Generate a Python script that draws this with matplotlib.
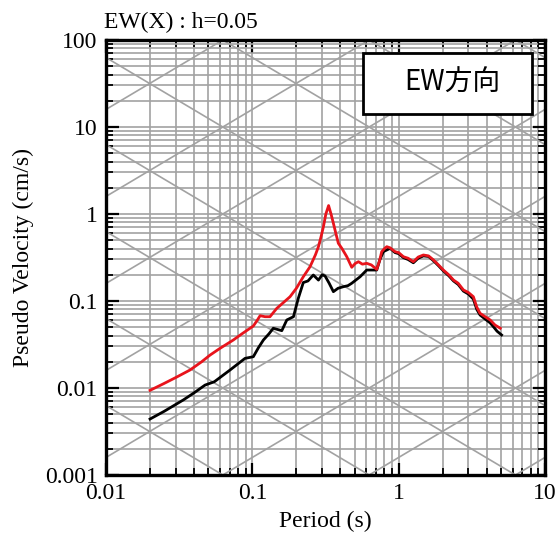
import numpy as np
import matplotlib.pyplot as plt
from matplotlib.patches import Rectangle

plt.rcParams['font.family'] = ['Liberation Serif', 'DejaVu Serif']

# Response spectrum, h=0.05
period_red = [0.02, 0.025, 0.03, 0.0375, 0.045, 0.0514, 0.06, 0.0741, 0.085, 0.1016,
              0.108, 0.113, 0.122, 0.132, 0.147, 0.162, 0.181, 0.2, 0.223, 0.248,
              0.27, 0.283, 0.295, 0.306, 0.318, 0.332, 0.345, 0.358, 0.372, 0.387,
              0.41, 0.442, 0.478, 0.505, 0.531, 0.565, 0.605, 0.65, 0.708, 0.74,
              0.766, 0.8, 0.829, 0.87, 0.945, 1.0, 1.077, 1.16, 1.26, 1.36,
              1.475, 1.6, 1.73, 1.87, 2.02, 2.2, 2.37, 2.55, 2.77, 3.0,
              3.24, 3.42, 3.6, 3.9, 4.22, 4.55, 4.95]
sv_red = [0.0094, 0.0113, 0.0132, 0.0161, 0.0200, 0.0239, 0.0285, 0.0356, 0.0420, 0.0516,
          0.060, 0.0678, 0.066, 0.066, 0.0824, 0.095, 0.112, 0.140, 0.190, 0.248,
          0.340, 0.421, 0.55, 0.714, 1.00, 1.25, 1.00, 0.782, 0.60, 0.461,
          0.40, 0.323, 0.244, 0.27, 0.283, 0.265, 0.271, 0.26, 0.231, 0.29,
          0.369, 0.40, 0.421, 0.41, 0.369, 0.36, 0.323, 0.31, 0.283, 0.32,
          0.338, 0.33, 0.296, 0.26, 0.227, 0.20, 0.174, 0.16, 0.134, 0.125,
          0.112, 0.085, 0.0722, 0.066, 0.0605, 0.053, 0.0486]

period_blk = [0.02, 0.025, 0.0338, 0.04, 0.0475, 0.055, 0.0704, 0.0891, 0.1016, 0.11,
              0.119, 0.13, 0.139, 0.159, 0.172, 0.191, 0.206, 0.223, 0.24, 0.261,
              0.283, 0.3, 0.314, 0.335, 0.358, 0.385, 0.419, 0.45, 0.478, 0.545,
              0.605, 0.708, 0.745, 0.786, 0.874, 0.945, 1.0, 1.077, 1.16, 1.26,
              1.36, 1.475, 1.6, 1.73, 1.87, 2.02, 2.2, 2.37, 2.55, 2.77,
              3.0, 3.24, 3.42, 3.6, 3.9, 4.22, 4.44, 4.7, 5.05]
sv_blk = [0.0044, 0.0054, 0.0073, 0.0088, 0.0108, 0.0118, 0.0161, 0.0219, 0.0229, 0.029,
          0.0356, 0.042, 0.0486, 0.0456, 0.0605, 0.066, 0.107, 0.163, 0.17, 0.199,
          0.174, 0.20, 0.194, 0.16, 0.128, 0.14, 0.146, 0.15, 0.160, 0.190,
          0.227, 0.227, 0.30, 0.369, 0.403, 0.36, 0.35, 0.315, 0.30, 0.275,
          0.31, 0.33, 0.325, 0.29, 0.255, 0.222, 0.195, 0.17, 0.155, 0.13,
          0.12, 0.105, 0.08, 0.069, 0.062, 0.056, 0.0507, 0.045, 0.0407]

# tripartite guide lines
acc_levels = [1e-4, 1e-3, 1e-2, 1e-1, 1, 10, 100, 1e3, 1e4, 1e5]   # cm/s2
disp_levels = [1e-5, 1e-4, 1e-3, 1e-2, 1e-1, 1, 10, 100]          # cm

x_ticks = [0.01, 0.1, 1, 10]
x_labels = ['0.01', '0.1', '1', '10']
y_ticks = [0.001, 0.01, 0.1, 1, 10, 100]
y_labels = ['0.001', '0.01', '0.1', '1', '10', '100']

fig = plt.figure(figsize=(5.6, 5.39), dpi=100)
ax = fig.add_axes([106/560, 64/539, 439/560, 435/539])
ax.set_xscale('log')
ax.set_yscale('log')
ax.set_xlim(0.01, 10)
ax.set_ylim(0.001, 100)

grid_col = '#a2a2a2'
ax.grid(True, which='both', color=grid_col, lw=1.2)
ax.set_axisbelow(True)

T_edge = np.array([0.01, 10.0])
for a in acc_levels:
    ax.plot(T_edge, a * T_edge / (2*np.pi), color=grid_col, lw=1.2, zorder=1)
for d in disp_levels:
    ax.plot(T_edge, 2*np.pi * d / T_edge, color=grid_col, lw=1.2, zorder=1)

ax.plot(period_blk, sv_blk, color='black', lw=2.0, zorder=3)
ax.plot(period_red, sv_red, color='#e8141c', lw=2.0, zorder=4)

ax.set_xticks(x_ticks)
ax.set_xticklabels(x_labels)
ax.set_yticks(y_ticks)
ax.set_yticklabels(y_labels)
ax.tick_params(which='both', direction='in', top=True, right=True, labelsize=17)
ax.tick_params(which='major', length=9, width=1.6, pad=6)
ax.tick_params(which='minor', length=5, width=1.3)
for s in ax.spines.values():
    s.set_linewidth(2.4)

ax.set_xlabel('Period (s)', fontsize=17, labelpad=5)
ax.set_ylabel('Pseudo Velocity (cm/s)', fontsize=17, labelpad=8)
ax.text(-0.005, 1.015, 'EW(X) : h=0.05', transform=ax.transAxes, fontsize=17,
        ha='left', va='bottom')

# label box
ax.add_patch(Rectangle((0.585, 0.830), 0.385, 0.141, transform=ax.transAxes,
                       facecolor='white', edgecolor='black', lw=2.0, zorder=6))
ax.text(0.790, 0.901, 'EW方向', transform=ax.transAxes, fontsize=20,
        ha='center', va='center', zorder=7,
        family=['Noto Sans CJK JP', 'DejaVu Sans'])

plt.savefig('out.png', dpi=100)
